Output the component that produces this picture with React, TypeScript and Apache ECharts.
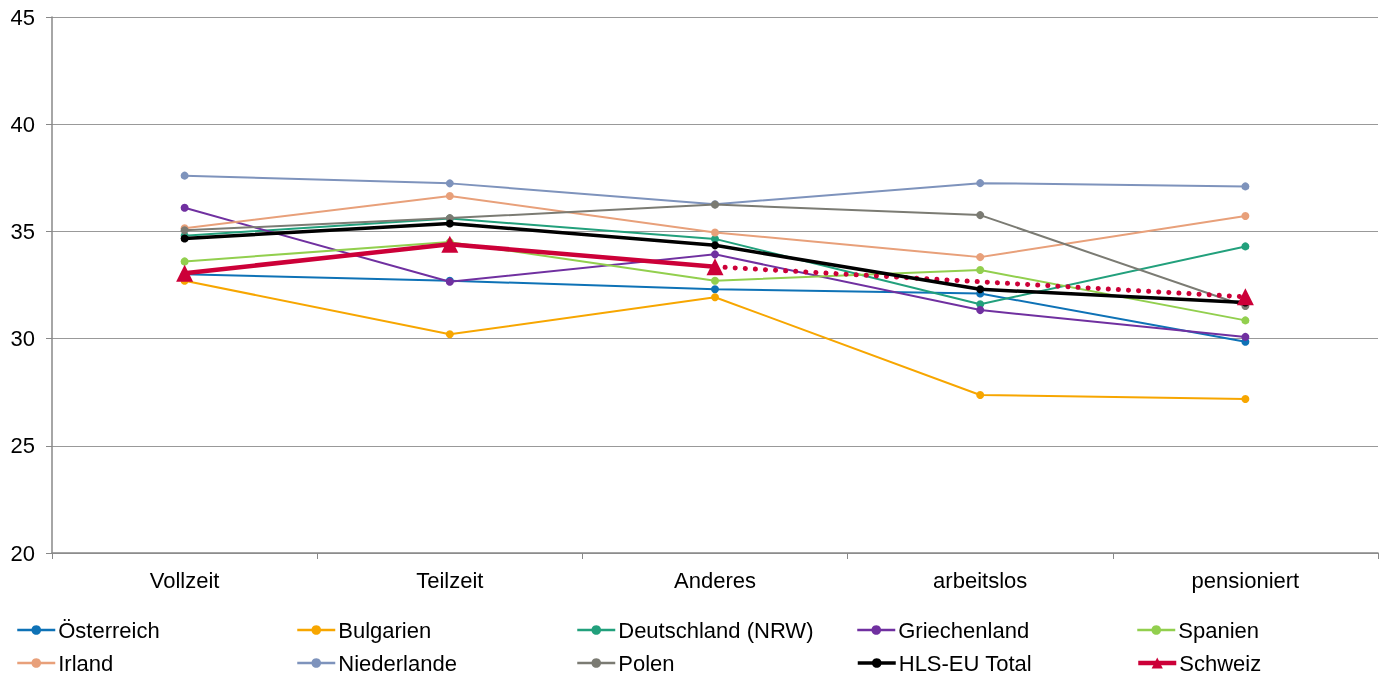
import React, { useEffect, useRef } from "react";
import * as echarts from "echarts";

const categories = ["Vollzeit", "Teilzeit", "Anderes", "arbeitslos", "pensioniert"];
const yTicks = [20, 25, 30, 35, 40, 45];

const oesterreich = [33.0, 32.7, 32.3, 32.1, 29.85];
const bulgarien = [32.7, 30.2, 31.93, 27.37, 27.18];
const deutschland = [34.8, 35.6, 34.65, 31.6, 34.3];
const griechenland = [36.1, 32.65, 33.93, 31.33, 30.08];
const spanien = [33.6, 34.5, 32.7, 33.2, 30.85];
const irland = [35.15, 36.65, 34.95, 33.8, 35.72];
const niederlande = [37.6, 37.24, 36.27, 37.25, 37.1];
const polen = [35.05, 35.62, 36.25, 35.76, 31.52];
const hlsTotal = [34.67, 35.37, 34.35, 32.3, 31.68];
const schweiz = [33.05, 34.4, 33.35, null, 31.95];
const schweizTrend = [null, null, 33.35, null, 31.95];

const names = [
  "Österreich",
  "Bulgarien",
  "Deutschland (NRW)",
  "Griechenland",
  "Spanien",
  "Irland",
  "Niederlande",
  "Polen",
  "HLS-EU Total",
  "Schweiz",
];
const colors = [
  "#0E72B6",
  "#F7A600",
  "#22A07C",
  "#7030A0",
  "#92CF4E",
  "#E8A07A",
  "#7E93BC",
  "#7B7B73",
  "#000000",
  "#CC0038",
];
const values = [
  oesterreich,
  bulgarien,
  deutschland,
  griechenland,
  spanien,
  irland,
  niederlande,
  polen,
  hlsTotal,
  schweiz,
];

const FONT = "'Liberation Sans', Arial, sans-serif";

export default function App() {
  const ref = useRef<HTMLDivElement>(null);
  useEffect(() => {
    if (!ref.current) return;
    const chart = echarts.init(ref.current, undefined, { renderer: "svg" });

    const series: any[] = values.map((v, i) => {
      const isHls = i === 8;
      const isCh = i === 9;
      return {
        name: names[i],
        type: "line",
        data: v,
        color: colors[i],
        symbol: isCh ? "triangle" : "circle",
        symbolSize: isCh ? 17 : 8,
        showSymbol: true,
        connectNulls: false,
        lineStyle: { width: isCh ? 4.5 : isHls ? 3.5 : 2, color: colors[i] },
        itemStyle: { color: colors[i] },
        z: isCh ? 10 : isHls ? 9 : 2 + i * 0.1,
      };
    });
    series.push({
      name: "Schweiz Trend",
      type: "line",
      data: schweizTrend,
      connectNulls: true,
      symbol: "none",
      color: colors[9],
      lineStyle: { width: 5, color: colors[9], type: [0.1, 10], cap: "round" },
      z: 8,
    });

    const colLeft = [16, 296, 576, 856, 1136];
    const rowTop = [619, 652];
    const legends = names.map((n, i) => {
      const isCh = i === 9;
      const isHls = i === 8;
      return {
        data: [n],
        left: colLeft[i % 5],
        top: rowTop[Math.floor(i / 5)],
        padding: 0,
        itemWidth: 38,
        itemHeight: isCh ? 14 : 12,
        itemGap: 0,
        selectedMode: false,
        lineStyle: { width: isCh ? 4.5 : isHls ? 3.5 : 2.5 },
        textStyle: { fontFamily: FONT, fontSize: 22, color: "#000", padding: [0, 0, 0, -2] },
      };
    });

    chart.setOption({
      animation: false,
      grid: { left: 52, right: 4, top: 17, bottom: 124, containLabel: false },
      legend: legends,
      xAxis: {
        type: "category",
        data: categories,
        boundaryGap: true,
        axisLine: { show: true, lineStyle: { color: "#888888", width: 1.5 } },
        axisTick: { show: true, length: 6, lineStyle: { color: "#888888" } },
        axisLabel: { fontFamily: FONT, fontSize: 22, color: "#000", margin: 16 },
      },
      yAxis: {
        type: "value",
        min: yTicks[0],
        max: yTicks[yTicks.length - 1],
        interval: 5,
        axisLine: { show: true, lineStyle: { color: "#888888", width: 1.5 } },
        axisTick: { show: true, length: 6, lineStyle: { color: "#888888" } },
        axisLabel: { fontFamily: FONT, fontSize: 22, color: "#000", margin: 17 },
        splitLine: { show: true, lineStyle: { color: "#999999", width: 1.2 } },
      },
      series,
    });
    return () => chart.dispose();
  }, []);
  return (
    <div
      ref={ref}
      style={{ position: "fixed", left: 0, top: 0, width: 1382, height: 677 }}
    />
  );
}
